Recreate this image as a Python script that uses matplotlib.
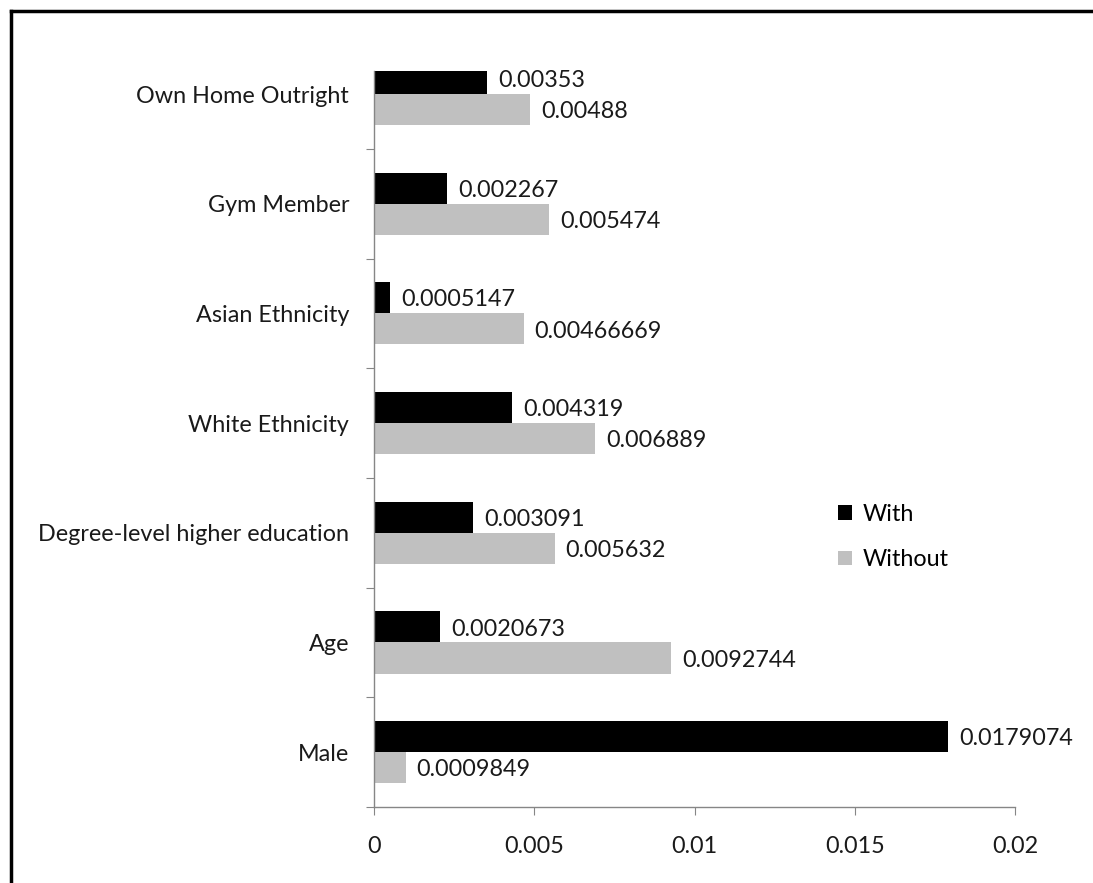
import matplotlib
matplotlib.use("Agg")
import matplotlib.pyplot as plt
from matplotlib.lines import Line2D

plt.rcParams['font.family'] = ['Lato', 'DejaVu Sans']

categories = ['Male', 'Age', 'Degree-level higher education', 'White Ethnicity',
              'Asian Ethnicity', 'Gym Member', 'Own Home Outright']
with_vals = [0.0179074, 0.0020673, 0.003091, 0.004319, 0.0005147, 0.002267, 0.00353]
without_vals = [0.0009849, 0.0092744, 0.005632, 0.006889, 0.00466669, 0.005474, 0.00488]
with_labels = ['0.0179074', '0.0020673', '0.003091', '0.004319', '0.0005147', '0.002267', '0.00353']
without_labels = ['0.0009849', '0.0092744', '0.005632', '0.006889', '0.00466669', '0.005474', '0.00488']
xticks = [0, 0.005, 0.01, 0.015, 0.02]
xtick_labels = ['0', '0.005', '0.01', '0.015', '0.02']

fs = 16.8
txt = '#1a1a1a'

fig = plt.figure(figsize=(10.93, 8.83), dpi=100)
ax = fig.add_axes([374/1093, 76/883, (1015-374)/1093, (807-71)/883])

y = list(range(len(categories)))
h = 0.283
b1 = ax.barh([v + h/2 for v in y], with_vals, height=h, color='black', label='With')
b2 = ax.barh([v - h/2 for v in y], without_vals, height=h, color='#c0c0c0', label='Without')

for bars, labels in ((b1, with_labels), (b2, without_labels)):
    for bar, lab in zip(bars, labels):
        ax.annotate(lab, (bar.get_width(), bar.get_y() + bar.get_height()/2),
                    xytext=(8, -1.5), textcoords='offset points', va='center', ha='left',
                    fontsize=fs, color=txt, clip_on=False)

ax.set_xlim(0, 0.02)
ax.set_ylim(-0.5, 6.21)
ax.set_xticks(xticks)
ax.set_xticklabels(xtick_labels)
ax.set_yticks([v + 0.5 for v in range(-1, 6)])
ax.set_yticklabels([])
ax.set_yticks(y, minor=True)
ax.set_yticklabels(categories, minor=True)
ax.tick_params(axis='y', which='minor', length=0, pad=18, labelsize=fs, labelcolor=txt)
ax.tick_params(axis='y', which='major', length=6, color='#868686', direction='out')
ax.tick_params(axis='x', length=6, color='#868686', direction='out', pad=15,
               labelsize=fs, labelcolor=txt)
for s in ('top', 'right'):
    ax.spines[s].set_visible(False)
for s in ('left', 'bottom'):
    ax.spines[s].set_color('#868686')
    ax.spines[s].set_linewidth(1.0)

ax.legend(loc='center', bbox_to_anchor=(893/1093, 1 - 537/883), bbox_transform=fig.transFigure,
          frameon=False, fontsize=fs, handlelength=0.6, handleheight=0.6,
          handletextpad=0.45, labelspacing=1.05)

# outer border (top and left edges visible)
fig.add_artist(Line2D([11/1093, 1], [1 - 11/883, 1 - 11/883], color='black', lw=2.5,
                      transform=fig.transFigure))
fig.add_artist(Line2D([11/1093, 11/1093], [0, 1 - 11/883], color='black', lw=2.5,
                      transform=fig.transFigure))

fig.savefig('out.png', dpi=100)
